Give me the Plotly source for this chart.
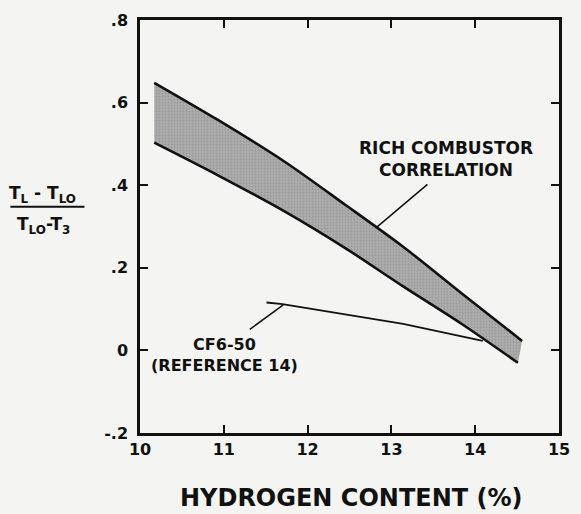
import plotly.graph_objects as go

# ---- data ----
upper_x = [10.17, 10.93, 11.74, 12.44, 13.14, 13.84, 14.56]
upper_y = [0.648, 0.558, 0.455, 0.354, 0.251, 0.138, 0.023]
lower_x = [10.17, 10.93, 11.74, 12.44, 13.14, 13.84, 14.51]
lower_y = [0.503, 0.424, 0.335, 0.249, 0.155, 0.064, -0.030]
cf6_x = [11.51, 11.70, 13.14, 14.09]
cf6_y = [0.116, 0.112, 0.064, 0.023]

x_ticks = [10, 11, 12, 13, 14, 15]
x_ticktext = ["10", "11", "12", "13", "14", "15"]
y_ticks = [-0.2, 0.0, 0.2, 0.4, 0.6, 0.8]
y_ticktext = ["-.2", "0", ".2", ".4", ".6", ".8"]

rich_label = "RICH COMBUSTOR<br>CORRELATION"
rich_text_pos = (13.65, 0.463)
rich_leader = [(13.43, 0.402), (12.83, 0.299)]
cf6_label = "CF6-50<br>(REFERENCE 14)"
cf6_text_pos = (11.01, -0.012)
cf6_leader = [(11.31, 0.051), (11.71, 0.110)]

BG = "#f4f4f2"
FONT = "DejaVu Sans"
W, H = 581, 514
ML, MR, MT, MB = 140, 11, 17, 81
PW, PH = W - ML - MR, H - MT - MB


def px(x, y):
    """pixel position -> paper (plot-domain) coordinates"""
    return (x - ML) / PW, (H - MB - y) / PH


fig = go.Figure()

# shaded band
fig.add_trace(go.Scatter(
    x=upper_x + lower_x[::-1], y=upper_y + lower_y[::-1],
    fill="toself", mode="lines", line=dict(width=0),
    fillcolor="#a2a2a2",
    fillpattern=dict(shape=".", bgcolor="#adadad", fgcolor="#858585", size=3, solidity=0.35),
    hoverinfo="skip", showlegend=False))
for xs, ys in [(upper_x, upper_y), (lower_x, lower_y)]:
    fig.add_trace(go.Scatter(x=xs, y=ys, mode="lines",
                             line=dict(color="#111", width=2.6, shape="spline", smoothing=0.8),
                             showlegend=False))
fig.add_trace(go.Scatter(x=cf6_x, y=cf6_y, mode="lines",
                         line=dict(color="#111", width=1.8),
                         showlegend=False))

# leader lines
for (x0, y0), (x1, y1) in [rich_leader, cf6_leader]:
    fig.add_shape(type="line", x0=x0, y0=y0, x1=x1, y1=y1, xref="x", yref="y",
                  line=dict(color="#111", width=1.5))

fig.add_annotation(x=rich_text_pos[0], y=rich_text_pos[1], text=rich_label, showarrow=False,
                   font=dict(family=FONT, size=17, color="#111", weight=700), align="center")
fig.add_annotation(x=cf6_text_pos[0], y=cf6_text_pos[1], text=cf6_label, showarrow=False,
                   font=dict(family=FONT, size=16, color="#111", weight=700), align="center")

# y-axis fraction label
nx, ny = px(40, 193)
dx, dy = px(41, 224)
fig.add_annotation(x=nx, y=ny, xref="paper", yref="paper", showarrow=False,
                   text="T<sub>L</sub> - T<sub>LO</sub>", xanchor="center", yanchor="middle",
                   font=dict(family=FONT, size=17, color="#111", weight=700))
fig.add_annotation(x=dx, y=dy, xref="paper", yref="paper", showarrow=False,
                   text="T<sub>LO</sub>-T<sub>3</sub>", xanchor="center", yanchor="middle",
                   font=dict(family=FONT, size=17, color="#111", weight=700))
bx0, by = px(7, 205)
bx1, _ = px(83, 205)
fig.add_shape(type="line", xref="paper", yref="paper", x0=bx0, x1=bx1, y0=by, y1=by,
              line=dict(color="#111", width=2))

# x-axis title
tx, ty = px(357, 498)
fig.add_annotation(x=tx, y=ty, xref="paper", yref="paper", showarrow=False,
                   text="HYDROGEN CONTENT (%)", xanchor="center", yanchor="middle",
                   font=dict(family=FONT, size=24, color="#111", weight=700))

axis_common = dict(showgrid=False, zeroline=False, showline=True, linecolor="#111",
                   linewidth=2.5, mirror="ticks", ticks="inside", ticklen=8, tickwidth=2,
                   tickcolor="#111",
                   tickfont=dict(family=FONT, size=16, color="#111", weight=700))
fig.update_xaxes(range=[10, 15], tickvals=x_ticks, ticktext=x_ticktext, **axis_common)
fig.update_yaxes(range=[-0.2, 0.8], tickvals=y_ticks, ticktext=y_ticktext,
                 ticklabelstandoff=6, **axis_common)

fig.update_layout(width=W, height=H, margin=dict(l=ML, r=MR, t=MT, b=MB),
                  paper_bgcolor=BG, plot_bgcolor=BG, showlegend=False)

fig.write_html("out.html", config={"displayModeBar": False},
               post_script="document.body.style.margin='0';"
                           "document.body.style.background='%s';"
                           "document.body.style.overflow='hidden';" % BG)
